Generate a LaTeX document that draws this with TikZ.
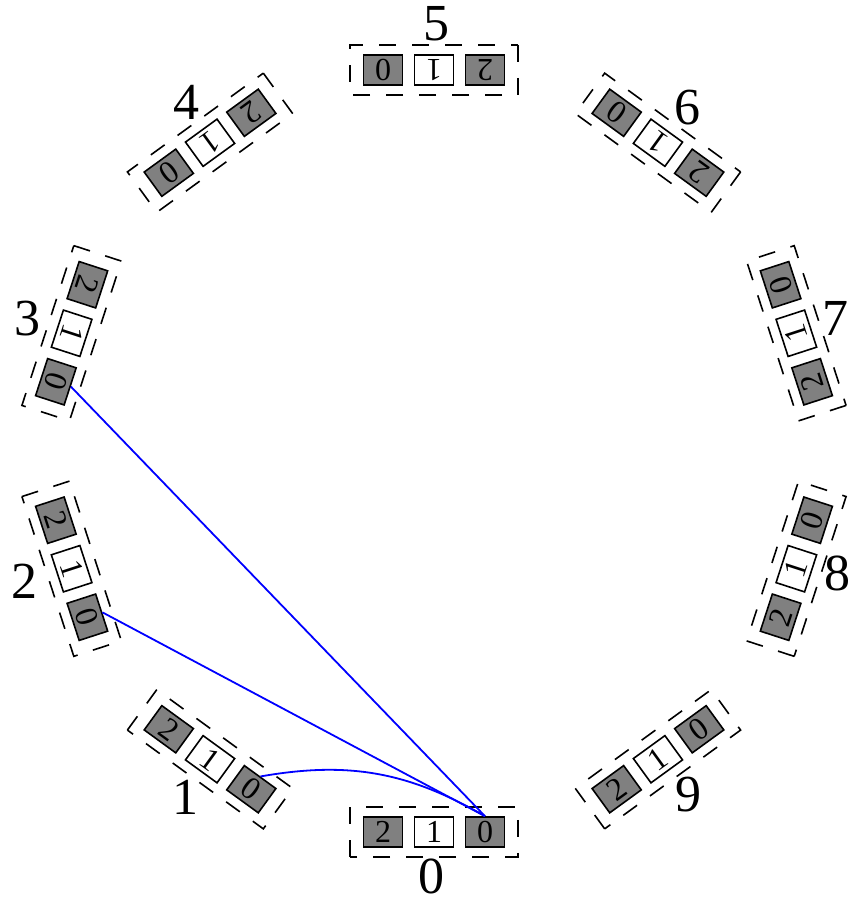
\documentclass[tikz,border=0pt]{standalone}
\usepackage{fontspec}
\setmainfont{Liberation Serif}
\begin{document}
\begin{tikzpicture}[x=1pt,y=1pt,
  cell/.style={draw=black, line width=1.6pt, minimum width=39pt, minimum height=30pt,
               inner sep=0pt, font=\fontsize{32}{36}\selectfont},
  full/.style={cell, fill=gray},
  empty/.style={cell, fill=white},
  frame/.style={draw=black, line width=1.6pt, dash pattern=on 17pt off 16pt},
  idx/.style={font=\fontsize{52}{60}\selectfont, inner sep=0pt},
  link/.style={draw=blue, line width=1.8pt}]
\useasboundingbox (0,0) rectangle (851,903);
\coordinate (c) at (434,452);
% ten groups of three cells placed round a circle, each turned along the tangent
\foreach \i in {0,...,9}{
  \begin{scope}[shift={(c)}, shift={(-90-36*\i:381)}, rotate={-36*\i}, transform shape]
    \draw[frame] (-84,-25) rectangle (84,25);
    \node[full]  (g\i-2) at (-51,0) {2};
    \node[empty] (g\i-1) at (0,0)   {1};
    \node[full]  (g\i-0) at (51,0)  {0};
  \end{scope}
}
% group numbers outside the ring
\foreach \i/\px/\py in {0/431/27, 1/185/106, 2/25/322, 3/27/584, 4/186/801,
                        5/436/879, 6/687/795, 7/835/585, 8/837/330, 9/688/108}{
  \node[idx] (l\i) at (\px,\py) {\i};
}
% links from cell 0 of group 0
\draw[link] (g1-0.north) to[bend left=20] (g0-0.north);
\draw[link] (g2-0.north) -- (g0-0.north);
\draw[link] (g3-0.north) -- (g0-0.north);
\end{tikzpicture}
\end{document}
